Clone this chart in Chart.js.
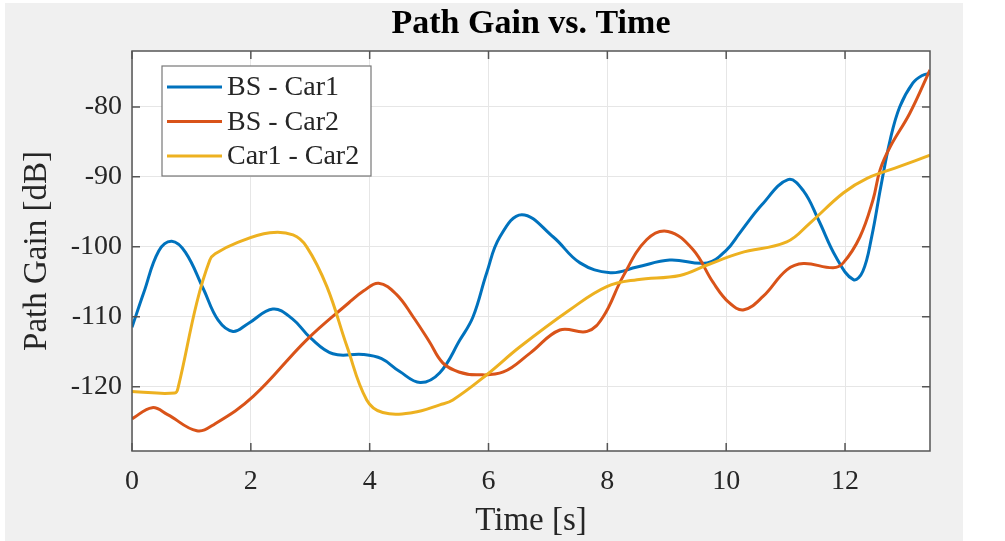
<!DOCTYPE html>
<html>
<head>
<meta charset="utf-8">
<script src="https://cdn.jsdelivr.net/npm/chart.js@4/dist/chart.umd.min.js"></script>
<style>
  body { margin: 0; background: #fff; }
  canvas { display: block; }
</style>
</head>
<body>
<canvas id="myChart" width="1005" height="541"></canvas>
<script>
// time [s] and path gain [dB] for each link
var bsCar1T = [0, 0.2, 0.45, 0.67, 0.9, 1.2, 1.45, 1.7, 1.95, 2.37, 2.7, 3.0, 3.38, 3.89, 4.2, 4.5, 4.85, 5.18, 5.52, 5.74, 5.97, 6.19, 6.56, 7.09, 7.54, 8.05, 8.5, 9.05, 9.68, 10.0, 10.23, 10.6, 11.04, 11.3, 11.55, 11.85, 12.14, 12.3, 12.45, 12.6, 12.76, 12.92, 13.14, 13.3, 13.43];
var bsCar1Db = [-111.5, -106.5, -100.6, -99.2, -100.8, -106, -110.5, -112.1, -111, -108.9, -110.3, -113, -115.3, -115.4, -116, -117.8, -119.4, -118, -113.3, -110, -103.7, -98.6, -95.4, -98.6, -102.3, -103.7, -102.9, -101.9, -102.3, -100.5, -98, -94, -90.4, -92, -96.1, -101.5, -104.7, -103.5, -98.5, -91.5, -84.7, -80, -76.6, -75.5, -75.2];

var bsCar2T = [0, 0.34, 0.6, 1.09, 1.4, 2.04, 2.94, 3.65, 3.9, 4.15, 4.45, 4.73, 5.0, 5.23, 5.5, 5.8, 6.25, 6.7, 7.2, 7.66, 7.93, 8.26, 8.66, 9.02, 9.44, 9.78, 10.05, 10.3, 10.62, 11.02, 11.3, 11.8, 11.97, 12.25, 12.47, 12.59, 12.76, 13.09, 13.43];
var bsCar2Db = [-124.6, -123, -124, -126.3, -125.3, -121.4, -113.3, -108, -106.3, -105.2, -106.8, -110, -113.5, -116.6, -117.9, -118.3, -117.9, -115.2, -111.9, -112.1, -110, -104.3, -99, -97.8, -100.4, -105.1, -108, -109, -107.1, -103.3, -102.4, -103, -102.3, -98.6, -93.3, -89, -85.7, -80.9, -74.7];

var car1Car2T = [0, 0.72, 0.78, 1.09, 1.31, 1.4, 1.77, 2.32, 2.71, 2.94, 3.28, 3.62, 3.95, 4.22, 4.73, 5.18, 5.4, 5.97, 6.53, 7.37, 7.99, 8.5, 9.22, 9.68, 10.23, 11.02, 11.41, 11.97, 12.37, 12.92, 13.43];
var car1Car2Db = [-120.7, -120.9, -120, -108, -101.9, -101, -99.4, -98, -98.3, -100, -105.7, -114.3, -121.9, -123.7, -123.7, -122.6, -121.9, -118.3, -114.3, -109, -105.7, -104.7, -104.1, -102.6, -100.9, -99.3, -96.6, -92.3, -90.2, -88.5, -86.9];

var labels = ['BS - Car1', 'BS - Car2', 'Car1 - Car2'];
var colors = ['#0072BD', '#D95319', '#EDB120'];
var xTicks = [0, 2, 4, 6, 8, 10, 12];
var yTicks = [-120, -110, -100, -90, -80];

var serif = "'Liberation Serif', 'Times New Roman', serif";

function toPoints(t, v) {
    return t.map(function (x, i) { return { x: x, y: v[i] }; });
}

// gray figure background, white axes area
var figureBg = {
    id: 'figureBg',
    beforeDraw: function (chart) {
        var ctx = chart.ctx, a = chart.chartArea;
        ctx.save();
        ctx.fillStyle = '#ffffff';
        ctx.fillRect(0, 0, chart.width, chart.height);
        ctx.fillStyle = '#f0f0f0';
        ctx.fillRect(5, 3, 958, chart.height - 3);
        ctx.fillStyle = '#ffffff';
        ctx.fillRect(a.left, a.top, a.right - a.left, a.bottom - a.top);
        ctx.restore();
    }
};

// box around the axes with inward tick marks, plus the legend
var axesBox = {
    id: 'axesBox',
    afterDraw: function (chart) {
        var ctx = chart.ctx, a = chart.chartArea;
        var sx = chart.scales.x, sy = chart.scales.y;
        ctx.save();
        ctx.strokeStyle = '#555555';
        ctx.lineWidth = 1.5;
        ctx.strokeRect(a.left, a.top, a.right - a.left, a.bottom - a.top);
        ctx.beginPath();
        xTicks.forEach(function (v) {
            var px = sx.getPixelForValue(v);
            ctx.moveTo(px, a.bottom); ctx.lineTo(px, a.bottom - 8);
            ctx.moveTo(px, a.top); ctx.lineTo(px, a.top + 8);
        });
        yTicks.forEach(function (v) {
            var py = sy.getPixelForValue(v);
            ctx.moveTo(a.left, py); ctx.lineTo(a.left + 8, py);
            ctx.moveTo(a.right, py); ctx.lineTo(a.right - 8, py);
        });
        ctx.stroke();

        // legend
        var lx = a.left + 30, ly = a.top + 15, lw = 209, lh = 110;
        ctx.fillStyle = '#ffffff';
        ctx.fillRect(lx, ly, lw, lh);
        ctx.strokeStyle = '#777777';
        ctx.lineWidth = 1.2;
        ctx.strokeRect(lx, ly, lw, lh);
        ctx.font = '28px ' + serif;
        ctx.textBaseline = 'middle';
        ctx.fillStyle = '#262626';
        chart.data.datasets.forEach(function (ds, i) {
            var y = ly + 21 + i * 34.5;
            ctx.strokeStyle = ds.borderColor;
            ctx.lineWidth = 3;
            ctx.beginPath();
            ctx.moveTo(lx + 5, y);
            ctx.lineTo(lx + 60, y);
            ctx.stroke();
            ctx.fillText(ds.label, lx + 65, y + 1);
        });
        ctx.restore();
    }
};

var ctx = document.getElementById('myChart');

var myChart = new Chart(ctx, {
    type: 'line',
    data: {
        datasets: [
            { label: labels[0], data: toPoints(bsCar1T, bsCar1Db), borderColor: colors[0], order: 3 },
            { label: labels[1], data: toPoints(bsCar2T, bsCar2Db), borderColor: colors[1], order: 2 },
            { label: labels[2], data: toPoints(car1Car2T, car1Car2Db), borderColor: colors[2], order: 1 }
        ]
    },
    options: {
        responsive: false,
        animation: false,
        devicePixelRatio: 1,
        layout: { padding: { left: 0, right: 75, top: 0, bottom: 0 } },
        elements: {
            line: { borderWidth: 3, tension: 0.4, fill: false },
            point: { radius: 0 }
        },
        plugins: {
            legend: { display: false },
            tooltip: { enabled: false },
            title: {
                display: true,
                text: 'Path Gain vs. Time',
                fullSize: false,
                color: '#000000',
                font: { family: serif, size: 34, weight: 'bold' },
                padding: { top: 4, bottom: 6.2 }
            }
        },
        scales: {
            x: {
                type: 'linear',
                min: 0,
                max: 13.43,
                afterFit: function (s) { s.height = 90; },
                ticks: {
                    stepSize: 2,
                    includeBounds: false,
                    padding: 14,
                    color: '#262626',
                    font: { family: serif, size: 28 }
                },
                grid: { color: '#e6e6e6', drawTicks: false },
                border: { display: false },
                title: {
                    display: true,
                    text: 'Time [s]',
                    color: '#262626',
                    font: { family: serif, size: 33 },
                    padding: { top: 0, bottom: 0 }
                }
            },
            y: {
                min: -129.2,
                max: -72,
                afterFit: function (s) { s.width = 132; },
                ticks: {
                    stepSize: 10,
                    includeBounds: false,
                    padding: 10,
                    color: '#262626',
                    font: { family: serif, size: 28 }
                },
                grid: { color: '#e6e6e6', drawTicks: false },
                border: { display: false },
                title: {
                    display: true,
                    text: 'Path Gain [dB]',
                    color: '#262626',
                    font: { family: serif, size: 33 },
                    padding: { top: 18, bottom: 0 }
                }
            }
        }
    },
    plugins: [figureBg, axesBox]
});
</script>
</body>
</html>
